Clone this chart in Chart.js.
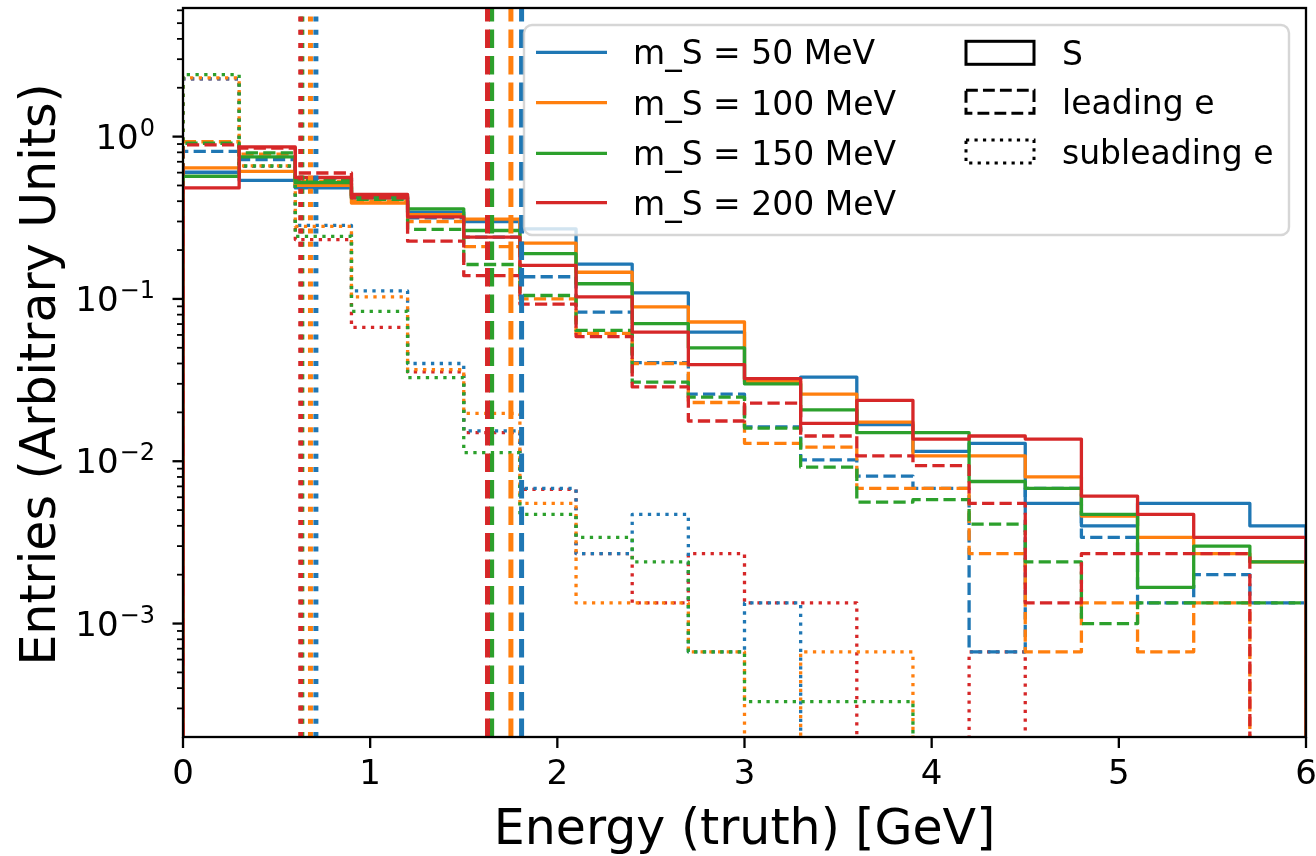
<!DOCTYPE html>
<html>
<head>
<meta charset="utf-8">
<title>Energy (truth)</title>
<script src="https://cdn.jsdelivr.net/npm/chart.js@4.4.1/dist/chart.umd.min.js"></script>
<style>
  html, body { margin: 0; padding: 0; background: #fff; overflow: hidden; }
  canvas { display: block; }
</style>
</head>
<body>
<canvas id="energy-chart" width="1316" height="856"></canvas>
<script>
// 20 bins of 0.3 GeV
const binEdges = [0, 0.3, 0.6, 0.9, 1.2, 1.5, 1.8, 2.1, 2.4, 2.7, 3.0, 3.3, 3.6, 3.9, 4.2, 4.5, 4.8, 5.1, 5.4, 5.7, 6.0];

const massLabels = ["m_S = 50 MeV", "m_S = 100 MeV", "m_S = 150 MeV", "m_S = 200 MeV"];
const massColors = ["#1f77b4", "#ff7f0e", "#2ca02c", "#d62728"];
const kindLabels = ["S", "leading e", "subleading e"];

// S energy, normalised
const scalar50  = [0.603, 0.538, 0.483, 0.42, 0.342, 0.30, 0.27, 0.164, 0.109, 0.0625, 0.032, 0.033, 0.0168, 0.0115, 0.0129, 0.0055, 0.0040, 0.0055, 0.0055, 0.0040];
const scalar100 = [0.641, 0.611, 0.50, 0.39, 0.33, 0.31, 0.221, 0.146, 0.0894, 0.0721, 0.031, 0.0259, 0.0174, 0.0108, 0.0108, 0.0080, 0.0046, 0.0034, 0.0027, 0.0024];
const scalar150 = [0.57, 0.75, 0.52, 0.43, 0.359, 0.264, 0.19, 0.124, 0.0704, 0.050, 0.030, 0.0207, 0.015, 0.015, 0.0075, 0.0068, 0.0047, 0.00167, 0.0030, 0.0024];
const scalar200 = [0.483, 0.864, 0.56, 0.44, 0.32, 0.24, 0.161, 0.103, 0.0625, 0.0394, 0.0323, 0.0171, 0.0237, 0.0137, 0.0143, 0.0137, 0.0061, 0.0047, 0.0034, 0.0034];

// leading electron
const leading50  = [0.81, 0.722, 0.557, 0.43, 0.316, 0.24, 0.137, 0.083, 0.0405, 0.0259, 0.0163, 0.0102, 0.0081, 0.0068, 0.00067, 0.0068, 0.0034, 0.00134, 0.0020, 0.00134];
const leading100 = [0.93, 0.78, 0.53, 0.40, 0.30, 0.21, 0.10, 0.0614, 0.040, 0.023, 0.0129, 0.0122, 0.0068, 0.0068, 0.0027, 0.00067, 0.00134, 0.00067, 0.00134, 0];
const leading150 = [0.91, 0.794, 0.54, 0.41, 0.268, 0.163, 0.105, 0.064, 0.0307, 0.0248, 0.016, 0.0092, 0.0056, 0.0058, 0.0041, 0.0024, 0.0010, 0.00134, 0.00134, 0.00134];
const leading200 = [0.89, 0.85, 0.597, 0.42, 0.227, 0.139, 0.093, 0.0586, 0.0287, 0.0177, 0.0228, 0.0143, 0.0108, 0.0094, 0.0055, 0.00134, 0.0027, 0.0027, 0.0027, 0];

// subleading electron
const subleading50  = [2.27, 0.656, 0.284, 0.112, 0.040, 0.0154, 0.0068, 0.0027, 0.0047, 0.00067, 0.00134, 0, 0, 0, 0, 0, 0, 0, 0, 0];
const subleading100 = [2.30, 0.66, 0.28, 0.103, 0.0367, 0.0197, 0.0055, 0.00134, 0.00134, 0.00067, 0, 0.00067, 0.00067, 0, 0, 0, 0, 0, 0, 0];
const subleading150 = [2.41, 0.66, 0.243, 0.0837, 0.0327, 0.0113, 0.0047, 0.0034, 0.0024, 0.00067, 0.00033, 0.00033, 0.00033, 0, 0, 0, 0, 0, 0, 0];
const subleading200 = [2.27, 0.656, 0.232, 0.0668, 0.0355, 0.015, 0.0067, 0.0027, 0.00134, 0.0027, 0.00134, 0.00134, 0, 0, 0.00067, 0, 0, 0, 0, 0];

// vertical markers (GeV)
const leadingMarks    = [1.809, 1.752, 1.649, 1.627];
const subleadingMarks = [0.710, 0.681, 0.635, 0.629];

// axes
const xTickValues = [0, 1, 2, 3, 4, 5, 6];
const yTickValues = [1e-3, 1e-2, 1e-1, 1];
const yTickExponents = ["\u22123", "\u22122", "\u22121", "0"];
const X_MIN = 0, X_MAX = 6;
const Y_MIN = 2.0e-4, Y_MAX = 6.2;

const scalarHists = [scalar50, scalar100, scalar150, scalar200];
const leadingHists = [leading50, leading100, leading150, leading200];
const subleadingHists = [subleading50, subleading100, subleading150, subleading200];

const FONT = '"DejaVu Sans", sans-serif';
const HIST_WIDTH = 3.3;
const MARK_WIDTH = 5;
const FLOOR = 1e-8;   // empty bins drop below the axis
const dashes = { solid: [], dashed: [3.7, 1.6], dotted: [1, 1.65] };
const dashFor = (kind, w) => dashes[kind].map(d => d * w);

// outline of a step histogram
function stepPoints(values) {
  const n = values.length;
  const pts = [{ x: binEdges[0], y: FLOOR }];
  values.forEach((v, i) => pts.push({ x: binEdges[i], y: v > 0 ? v : FLOOR }));
  pts.push({ x: binEdges[n], y: values[n - 1] > 0 ? values[n - 1] : FLOOR });
  pts.push({ x: binEdges[n], y: FLOOR });
  return pts;
}

function histDataset(values, color, kind) {
  return {
    data: stepPoints(values),
    borderColor: color,
    borderWidth: HIST_WIDTH,
    borderDash: dashFor(kind, HIST_WIDTH),
    borderJoinStyle: 'round',
    stepped: true,
    pointRadius: 0,
    fill: false,
    clip: 0
  };
}

function markDataset(xValue, color, kind) {
  return {
    data: [{ x: xValue, y: Y_MIN }, { x: xValue, y: Y_MAX }],
    borderColor: color,
    borderWidth: MARK_WIDTH,
    borderDash: dashFor(kind, MARK_WIDTH),
    pointRadius: 0,
    fill: false,
    clip: 0
  };
}

const datasets = [];
let seq = 0;
function add(ds, drawSeq) { ds.order = 1000 - drawSeq; datasets.push(ds); }
massColors.forEach((color, m) => {
  add(histDataset(scalarHists[m], color, 'solid'), seq++);
  add(histDataset(leadingHists[m], color, 'dashed'), seq++);
  // 200 MeV subleading goes underneath, it shares the low bins with the others
  add(histDataset(subleadingHists[m], color, 'dotted'), m === 3 ? -1 : seq++);
});
massColors.forEach((color, m) => {
  add(markDataset(subleadingMarks[m], color, 'dotted'), seq++);
  add(markDataset(leadingMarks[m], color, 'dashed'), seq++);
});

function roundRectPath(ctx, x, y, w, h, r) {
  ctx.beginPath();
  ctx.moveTo(x + r, y);
  ctx.arcTo(x + w, y, x + w, y + h, r);
  ctx.arcTo(x + w, y + h, x, y + h, r);
  ctx.arcTo(x, y + h, x, y, r);
  ctx.arcTo(x, y, x + w, y, r);
  ctx.closePath();
}

// frame, ticks, labels and the two-column legend
const framePlugin = {
  id: 'frame',
  afterDatasetsDraw(chart) {
    const { ctx, chartArea: a } = chart;
    const xs = chart.scales.x, ys = chart.scales.y;
    ctx.save();
    ctx.strokeStyle = '#000';
    ctx.fillStyle = '#000';
    ctx.setLineDash([]);

    // y ticks: decades plus minor ticks
    for (let k = -4; k <= 0; k++) {
      for (let d = 1; d <= 9; d++) {
        const v = d * Math.pow(10, k);
        if (v <= Y_MIN * 1.001 || v > Y_MAX) continue;
        const py = ys.getPixelForValue(v);
        const major = d === 1;
        ctx.lineWidth = major ? 2.3 : 1.8;
        ctx.beginPath();
        ctx.moveTo(a.left, py);
        ctx.lineTo(a.left - (major ? 10.5 : 6), py);
        ctx.stroke();
      }
    }
    // x ticks
    ctx.lineWidth = 2.3;
    xTickValues.forEach(v => {
      const px = xs.getPixelForValue(v);
      ctx.beginPath();
      ctx.moveTo(px, a.bottom);
      ctx.lineTo(px, a.bottom + 11);
      ctx.stroke();
    });

    // spines
    ctx.lineWidth = 2.3;
    ctx.strokeRect(a.left, a.top, a.right - a.left, a.bottom - a.top);

    // x tick labels
    ctx.font = '34px ' + FONT;
    ctx.textAlign = 'center';
    ctx.textBaseline = 'alphabetic';
    xTickValues.forEach(v => ctx.fillText(String(v), xs.getPixelForValue(v), 784));

    // y tick labels, 10 with a raised exponent
    yTickValues.forEach((v, i) => {
      const py = ys.getPixelForValue(v);
      ctx.font = '24px ' + FONT;
      const ew = ctx.measureText(yTickExponents[i]).width;
      const ex = a.left - 28 - ew;
      ctx.textAlign = 'left';
      ctx.fillText(yTickExponents[i], ex, py - 1);
      ctx.font = '34px ' + FONT;
      ctx.textAlign = 'right';
      ctx.fillText('10', ex - 1, py + 12);
    });

    // axis titles
    ctx.font = '49px ' + FONT;
    ctx.textAlign = 'center';
    ctx.fillText('Energy (truth) [GeV]', (a.left + a.right) / 2, 844);
    ctx.save();
    ctx.translate(55, (a.top + a.bottom) / 2 + 2);
    ctx.rotate(-Math.PI / 2);
    ctx.fillText('Entries (Arbitrary Units)', 0, 0);
    ctx.restore();

    // legend box
    roundRectPath(ctx, 524, 25, 765, 210, 8);
    ctx.fillStyle = 'rgba(255,255,255,0.8)';
    ctx.fill();
    ctx.strokeStyle = 'rgba(204,204,204,0.8)';
    ctx.lineWidth = 2.4;
    ctx.stroke();

    ctx.font = '33px ' + FONT;
    ctx.textAlign = 'left';
    ctx.fillStyle = '#000';
    const rowY = [52.3, 102.7, 153.3, 202.7];
    massLabels.forEach((label, m) => {
      ctx.strokeStyle = massColors[m];
      ctx.lineWidth = HIST_WIDTH;
      ctx.setLineDash([]);
      ctx.beginPath();
      ctx.moveTo(536, rowY[m]);
      ctx.lineTo(607, rowY[m]);
      ctx.stroke();
      ctx.fillText(label, 633, rowY[m] + 12);
    });
    const kindY = [52.8, 101.8, 151.5];
    ['solid', 'dashed', 'dotted'].forEach((kind, i) => {
      ctx.strokeStyle = '#000';
      ctx.lineWidth = 3;
      ctx.setLineDash(dashFor(kind, 3.2));
      ctx.strokeRect(966, kindY[i] - 11.5, 68, 23);
      ctx.setLineDash([]);
      ctx.fillText(kindLabels[i], 1062, kindY[i] + 12);
    });
    ctx.restore();
  }
};

new Chart(document.getElementById('energy-chart'), {
  type: 'line',
  data: { datasets: datasets },
  options: {
    responsive: false,
    devicePixelRatio: 1,
    animation: false,
    layout: { padding: { left: 183, right: 10, top: 8, bottom: 119 } },
    scales: {
      x: { type: 'linear', min: X_MIN, max: X_MAX, display: false },
      y: { type: 'logarithmic', min: Y_MIN, max: Y_MAX, display: false }
    },
    plugins: {
      legend: { display: false },
      tooltip: { enabled: false }
    }
  },
  plugins: [framePlugin]
});
</script>
</body>
</html>
